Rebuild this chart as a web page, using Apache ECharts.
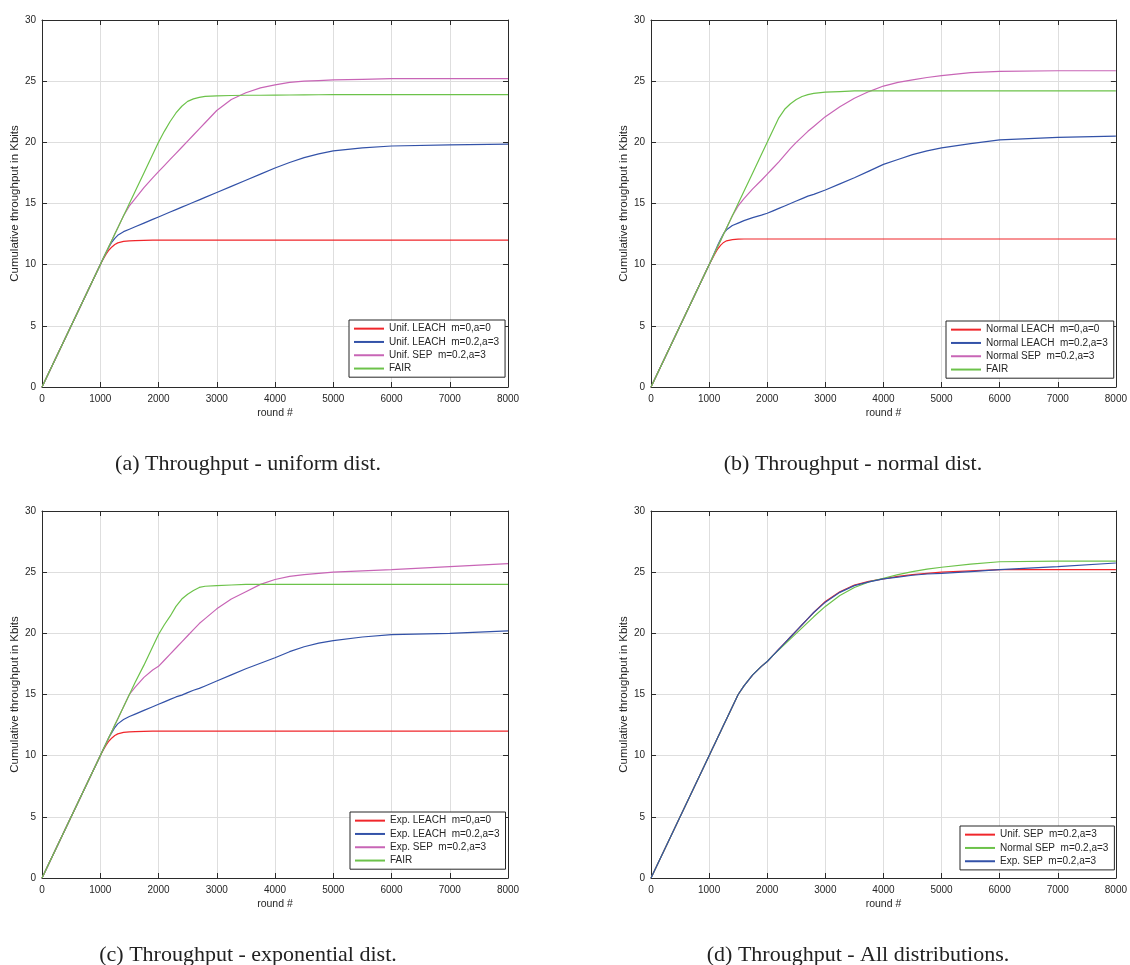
<!DOCTYPE html>
<html>
<head>
<meta charset="utf-8">
<title>Cumulative throughput</title>
<script src="https://cdn.jsdelivr.net/npm/echarts@6/dist/echarts.min.js"></script>
<style>
  html, body { margin: 0; padding: 0; background: #ffffff; }
  #chart { width: 1130px; height: 965px; }
</style>
</head>
<body>
<div id="chart"></div>
<script>
// Sample rounds shared by every curve
const ROUNDS = [0, 1000, 1050, 1100, 1150, 1200, 1250, 1300, 1400, 1500, 1600, 1750, 1900, 2000, 2100, 2200, 2300, 2400, 2500, 2600, 2700, 2800, 3000, 3250, 3500, 3750, 4000, 4250, 4500, 4750, 5000, 5500, 6000, 7000, 8000];

// (a) uniform distribution
const UNIF_LEACH_0 = [0, 10, 10.45, 10.85, 11.2, 11.45, 11.65, 11.78, 11.9, 11.95, 11.97, 11.99, 12.0, 12.0, 12.0, 12.0, 12.0, 12.0, 12.0, 12.0, 12.0, 12.0, 12.0, 12.0, 12.0, 12.0, 12.0, 12.0, 12.0, 12.0, 12.0, 12.0, 12.0, 12.0, 12.0];
const UNIF_LEACH_2 = [0, 10, 10.5, 11.0, 11.45, 11.85, 12.15, 12.4, 12.7, 12.9, 13.1, 13.4, 13.7, 13.9, 14.1, 14.3, 14.5, 14.7, 14.9, 15.1, 15.3, 15.5, 15.9, 16.4, 16.9, 17.4, 17.9, 18.35, 18.75, 19.05, 19.3, 19.55, 19.7, 19.8, 19.85];
const UNIF_SEP = [0, 10, 10.5, 11, 11.5, 12, 12.5, 13, 14, 14.8, 15.4, 16.3, 17.1, 17.6, 18.1, 18.6, 19.1, 19.6, 20.1, 20.6, 21.1, 21.6, 22.6, 23.5, 24.05, 24.45, 24.7, 24.9, 25.0, 25.05, 25.1, 25.15, 25.2, 25.2, 25.2];
const UNIF_FAIR = [0, 10, 10.5, 11, 11.5, 12, 12.5, 13, 14, 15, 16, 17.5, 19, 20, 20.9, 21.7, 22.4, 22.95, 23.35, 23.55, 23.68, 23.75, 23.8, 23.83, 23.85, 23.85, 23.86, 23.87, 23.88, 23.89, 23.9, 23.9, 23.9, 23.9, 23.9];

// (b) normal distribution
const NORM_LEACH_0 = [0, 10, 10.45, 10.9, 11.3, 11.6, 11.82, 11.95, 12.05, 12.08, 12.1, 12.1, 12.1, 12.1, 12.1, 12.1, 12.1, 12.1, 12.1, 12.1, 12.1, 12.1, 12.1, 12.1, 12.1, 12.1, 12.1, 12.1, 12.1, 12.1, 12.1, 12.1, 12.1, 12.1, 12.1];
const NORM_LEACH_2 = [0, 10, 10.5, 11.05, 11.6, 12.1, 12.55, 12.85, 13.2, 13.4, 13.6, 13.85, 14.05, 14.2, 14.4, 14.6, 14.8, 15.0, 15.2, 15.4, 15.6, 15.75, 16.1, 16.6, 17.1, 17.65, 18.2, 18.6, 19.0, 19.3, 19.55, 19.9, 20.2, 20.4, 20.5];
const NORM_SEP = [0, 10, 10.5, 11, 11.5, 12, 12.5, 13, 14, 14.8, 15.4, 16.2, 16.9, 17.4, 17.9, 18.4, 18.95, 19.5, 20.0, 20.45, 20.9, 21.3, 22.1, 22.9, 23.6, 24.15, 24.6, 24.9, 25.1, 25.3, 25.45, 25.7, 25.8, 25.85, 25.85];
const NORM_FAIR = [0, 10, 10.5, 11, 11.5, 12, 12.5, 13, 14, 15, 16, 17.5, 19, 20, 21.0, 22.0, 22.7, 23.15, 23.5, 23.75, 23.9, 24.0, 24.1, 24.15, 24.2, 24.2, 24.2, 24.2, 24.2, 24.2, 24.2, 24.2, 24.2, 24.2, 24.2];

// (c) exponential distribution
const EXP_LEACH_0 = [0, 10, 10.45, 10.85, 11.2, 11.45, 11.65, 11.78, 11.9, 11.95, 11.97, 11.99, 12.0, 12.0, 12.0, 12.0, 12.0, 12.0, 12.0, 12.0, 12.0, 12.0, 12.0, 12.0, 12.0, 12.0, 12.0, 12.0, 12.0, 12.0, 12.0, 12.0, 12.0, 12.0, 12.0];
const EXP_LEACH_2 = [0, 10, 10.5, 11.0, 11.5, 11.9, 12.3, 12.6, 12.95, 13.2, 13.4, 13.7, 14.0, 14.2, 14.4, 14.6, 14.8, 14.95, 15.15, 15.35, 15.5, 15.7, 16.1, 16.6, 17.1, 17.55, 18.0, 18.5, 18.9, 19.2, 19.4, 19.7, 19.9, 20.0, 20.2];
const EXP_SEP = [0, 10, 10.5, 11, 11.5, 12, 12.5, 13, 14, 15, 15.6, 16.4, 17.0, 17.3, 17.8, 18.3, 18.8, 19.3, 19.8, 20.3, 20.8, 21.2, 22.0, 22.8, 23.4, 24.0, 24.4, 24.65, 24.8, 24.9, 25.0, 25.1, 25.2, 25.45, 25.7];
const EXP_FAIR = [0, 10, 10.5, 11, 11.5, 12, 12.5, 13, 14, 15, 16, 17.4, 18.9, 19.9, 20.7, 21.4, 22.2, 22.8, 23.2, 23.5, 23.75, 23.85, 23.9, 23.95, 24.0, 24.0, 24.0, 24.0, 24.0, 24.0, 24.0, 24.0, 24.0, 24.0, 24.0];

// (d) SEP under all three distributions
const ALL_UNIF_SEP = [0, 10, 10.5, 11, 11.5, 12, 12.5, 13, 14, 15, 15.7, 16.6, 17.3, 17.7, 18.2, 18.7, 19.2, 19.7, 20.2, 20.7, 21.2, 21.7, 22.6, 23.4, 23.95, 24.25, 24.45, 24.65, 24.8, 24.9, 25.0, 25.1, 25.2, 25.2, 25.2];
const ALL_NORM_SEP = [0, 10, 10.5, 11, 11.5, 12, 12.5, 13, 14, 15, 15.7, 16.6, 17.3, 17.7, 18.2, 18.65, 19.1, 19.55, 20.0, 20.45, 20.9, 21.35, 22.2, 23.1, 23.75, 24.2, 24.5, 24.8, 25.05, 25.25, 25.4, 25.65, 25.85, 25.9, 25.9];
const ALL_EXP_SEP = [0, 10, 10.5, 11, 11.5, 12, 12.5, 13, 14, 15, 15.7, 16.6, 17.3, 17.7, 18.2, 18.7, 19.2, 19.7, 20.2, 20.7, 21.2, 21.7, 22.55, 23.35, 23.9, 24.2, 24.45, 24.6, 24.75, 24.85, 24.9, 25.05, 25.2, 25.45, 25.75];

// Axis ticks
const X_TICKS = [0, 1000, 2000, 3000, 4000, 5000, 6000, 7000, 8000];
const Y_TICKS = [0, 5, 10, 15, 20, 25, 30];

const CAPTIONS = [
  '(a) Throughput - uniform dist.',
  '(b) Throughput - normal dist.',
  '(c) Throughput - exponential dist.',
  '(d) Throughput - All distributions.'
];

const RED = '#f0262b';
const BLUE = '#3352a8';
const MAGENTA = '#c865b6';
const GREEN = '#6cc24a';

const PANELS = [
  { curves: [['Unif. LEACH  m=0,a=0', UNIF_LEACH_0, RED], ['Unif. LEACH  m=0.2,a=3', UNIF_LEACH_2, BLUE], ['Unif. SEP  m=0.2,a=3', UNIF_SEP, MAGENTA], ['FAIR', UNIF_FAIR, GREEN]] },
  { curves: [['Normal LEACH  m=0,a=0', NORM_LEACH_0, RED], ['Normal LEACH  m=0.2,a=3', NORM_LEACH_2, BLUE], ['Normal SEP  m=0.2,a=3', NORM_SEP, MAGENTA], ['FAIR', NORM_FAIR, GREEN]] },
  { curves: [['Exp. LEACH  m=0,a=0', EXP_LEACH_0, RED], ['Exp. LEACH  m=0.2,a=3', EXP_LEACH_2, BLUE], ['Exp. SEP  m=0.2,a=3', EXP_SEP, MAGENTA], ['FAIR', EXP_FAIR, GREEN]] },
  { curves: [['Unif. SEP  m=0.2,a=3', ALL_UNIF_SEP, RED], ['Normal SEP  m=0.2,a=3', ALL_NORM_SEP, GREEN], ['Exp. SEP  m=0.2,a=3', ALL_EXP_SEP, BLUE]] }
];

// Layout of the four panels
const GRIDS = [
  { left: 42, top: 20 },
  { left: 651, top: 20 },
  { left: 42, top: 511 },
  { left: 651, top: 511 }
];
const GW = 466, GH = 367;
const LEGENDS = [
  { left: 349, top: 320 },
  { left: 946, top: 321 },
  { left: 350, top: 812 },
  { left: 960, top: 826 }
];
const CAPTION_POS = [
  { x: 248, y: 464 },
  { x: 853, y: 464 },
  { x: 248, y: 955 },
  { x: 858, y: 955 }
];

const SANS = 'Liberation Sans, Arial, sans-serif';
const AXIS_COLOR = '#2b2b2b';
const GRID_COLOR = '#dedede';
const plainNumber = v => String(v);

const grid = [], xAxis = [], yAxis = [], series = [], legend = [], graphic = [];

PANELS.forEach((panel, p) => {
  grid.push({ left: GRIDS[p].left, top: GRIDS[p].top, width: GW, height: GH, containLabel: false });

  const tickStyle = { show: true, inside: true, length: 5, lineStyle: { color: AXIS_COLOR, width: 1 } };
  const lineStyle = { show: true, onZero: false, lineStyle: { color: AXIS_COLOR, width: 1 } };

  xAxis.push({
    type: 'value', gridIndex: p, position: 'bottom', min: X_TICKS[0], max: X_TICKS[X_TICKS.length - 1], interval: 1000,
    axisLine: lineStyle, axisTick: tickStyle,
    axisLabel: { color: '#262626', fontSize: 10, fontFamily: SANS, margin: 7, formatter: plainNumber },
    splitLine: { show: true, lineStyle: { color: GRID_COLOR, width: 1 } },
    name: 'round #', nameLocation: 'middle', nameGap: 21,
    nameTextStyle: { color: '#262626', fontSize: 10.5, fontFamily: SANS }
  });
  xAxis.push({
    type: 'value', gridIndex: p, position: 'top', min: X_TICKS[0], max: X_TICKS[X_TICKS.length - 1], interval: 1000,
    axisLine: lineStyle, axisTick: tickStyle, axisLabel: { show: false }, splitLine: { show: false }
  });
  yAxis.push({
    type: 'value', gridIndex: p, position: 'left', min: Y_TICKS[0], max: Y_TICKS[Y_TICKS.length - 1], interval: 5,
    axisLine: lineStyle, axisTick: tickStyle,
    axisLabel: { color: '#262626', fontSize: 10, fontFamily: SANS, margin: 6, formatter: plainNumber },
    splitLine: { show: true, lineStyle: { color: GRID_COLOR, width: 1 } },
    name: 'Cumulative throughput in Kbits', nameLocation: 'middle', nameGap: 15,
    nameTextStyle: { color: '#262626', fontSize: 11.5, fontFamily: SANS }
  });
  yAxis.push({
    type: 'value', gridIndex: p, position: 'right', min: Y_TICKS[0], max: Y_TICKS[Y_TICKS.length - 1], interval: 5,
    axisLine: lineStyle, axisTick: tickStyle, axisLabel: { show: false }, splitLine: { show: false }
  });

  const legendData = [];
  panel.curves.forEach(([name, vals, color]) => {
    series.push({
      type: 'line', name: name, xAxisIndex: 2 * p, yAxisIndex: 2 * p,
      data: ROUNDS.map((r, i) => [r, vals[i]]),
      smooth: false, symbol: 'none',
      lineStyle: { color: color, width: 1.2 }, itemStyle: { color: color },
      emphasis: { disabled: true }, animation: false
    });
    legendData.push({ name: name, icon: 'rect', itemStyle: { color: color } });
  });

  legend.push({
    data: legendData, orient: 'vertical',
    left: LEGENDS[p].left, top: LEGENDS[p].top,
    itemWidth: 30, itemHeight: 2, itemGap: 2,
    padding: [3, 6, 3, 5],
    backgroundColor: '#ffffff', borderColor: '#262626', borderWidth: 1, borderRadius: 0,
    textStyle: { color: '#262626', fontSize: 10, fontFamily: SANS, lineHeight: 11.3 },
    selectedMode: false
  });

  graphic.push({
    type: 'text', x: CAPTION_POS[p].x, y: CAPTION_POS[p].y,
    style: {
      text: CAPTIONS[p], fill: '#222222',
      font: '22px "Liberation Serif", "Times New Roman", serif',
      textAlign: 'center', textVerticalAlign: 'middle'
    }
  });
});

const chart = echarts.init(document.getElementById('chart'), null, { renderer: 'canvas' });
chart.setOption({
  backgroundColor: '#ffffff',
  animation: false,
  grid, xAxis, yAxis, series, legend, graphic
});
</script>
</body>
</html>
